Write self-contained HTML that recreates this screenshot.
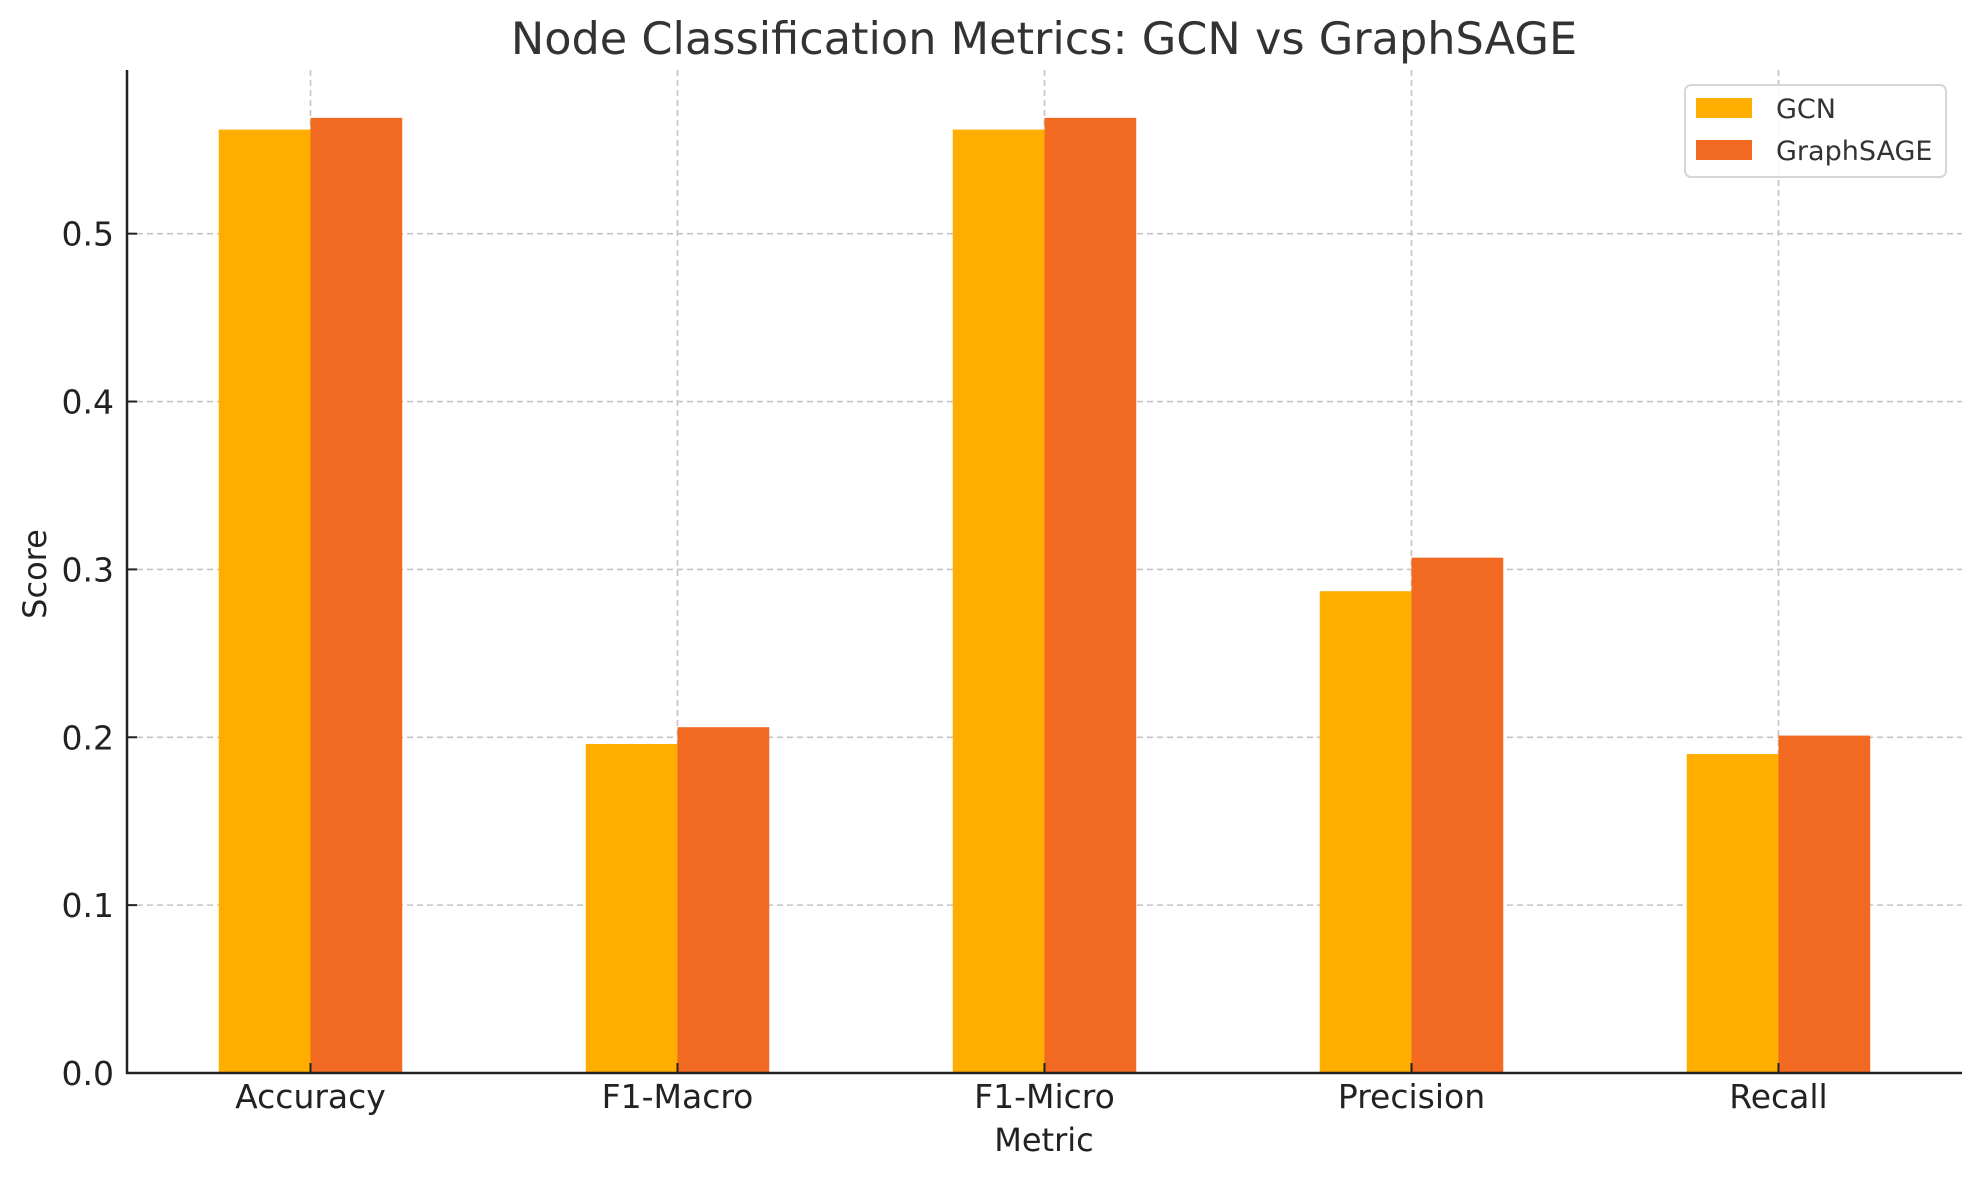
<!DOCTYPE html>
<html><head><meta charset="utf-8"><style>
body{margin:0;background:#fff}
svg text{font-family:"DejaVu Sans","Liberation Sans",sans-serif}
</style></head><body>
<svg id="chart" width="1980" height="1180" viewBox="0 0 1980 1180" xmlns="http://www.w3.org/2000/svg">
<rect width="1980" height="1180" fill="#fff"/>
<g id="grid"></g>
<g id="bars"></g>
<g id="axes"></g>
<text x="1044" y="54" text-anchor="middle" font-size="44.6" fill="#333">Node Classification Metrics: GCN vs GraphSAGE</text>
<text x="1044" y="1151" text-anchor="middle" font-size="32" fill="#222">Metric</text>
<text transform="translate(46,574) rotate(-90)" text-anchor="middle" font-size="32" fill="#222">Score</text>
<g>
<rect x="1685" y="85" width="261" height="92" rx="6" fill="#fff" fill-opacity="0.85" stroke="#d6d6d6" stroke-width="2"/>
<rect x="1696" y="98" width="56" height="20" fill="#FFAE00"/>
<text x="1776" y="118" font-size="27" fill="#333">GCN</text>
<rect x="1696" y="140" width="56" height="20" fill="#F26922"/>
<text x="1776" y="160" font-size="27" fill="#333">GraphSAGE</text>
</g>
</svg>
<script>
const categories=["Accuracy","F1-Macro","F1-Micro","Precision","Recall"];
const gcnValues=[0.562,0.196,0.562,0.287,0.190];
const sageValues=[0.569,0.206,0.569,0.307,0.201];
const yTicks=[0.0,0.1,0.2,0.3,0.4,0.5];
const yTickLabels=["0.0","0.1","0.2","0.3","0.4","0.5"];

const NS="http://www.w3.org/2000/svg";
const L=127,R=1962,T=70,B=1073;
const yMax=0.5975;
function y(v){return B-(v/yMax)*(B-T);}
function x(i){return L+(i+0.5)*(R-L)/categories.length;}
const unit=(R-L)/categories.length, bw=unit*0.25;
function mk(tag,attrs,parent){const e=document.createElementNS(NS,tag);for(const k in attrs)e.setAttribute(k,attrs[k]);parent.appendChild(e);return e;}
const grid=document.getElementById('grid'),bars=document.getElementById('bars'),axes=document.getElementById('axes');
yTicks.forEach((t,i)=>{
  const g=mk('line',{x1:L,x2:R,y1:y(t),y2:y(t),stroke:'#c4c4c4','stroke-width':1.6,'stroke-dasharray':'6,4'},grid);
  
  
  const tk=mk('line',{x1:L,x2:L+10,y1:y(t),y2:y(t),stroke:'#222','stroke-width':2},axes);
  
  
  const tx=mk('text',{x:L-13,y:y(t)+12,'text-anchor':'end','font-size':33,fill:'#222'},axes);
  tx.textContent=yTickLabels[i];
  
  
});
categories.forEach((c,i)=>{
  const g=mk('line',{x1:x(i),x2:x(i),y1:T,y2:B,stroke:'#c4c4c4','stroke-width':1.6,'stroke-dasharray':'6,4'},grid);
  
  
  const b1=mk('rect',{x:x(i)-bw,y:y(gcnValues[i]),width:bw,height:B-y(gcnValues[i]),fill:'#FFAE00'},bars);
  
  
  const b2=mk('rect',{x:x(i),y:y(sageValues[i]),width:bw,height:B-y(sageValues[i]),fill:'#F26922'},bars);
  
  
  const tk=mk('line',{x1:x(i),x2:x(i),y1:B,y2:B-10,stroke:'#222','stroke-width':2},axes);
  
  
  const tx=mk('text',{x:x(i),y:B+35,'text-anchor':'middle','font-size':33,fill:'#222'},axes);
  tx.textContent=c;
  
  
});
const ya=mk('line',{x1:L,x2:L,y1:T,y2:B+1,stroke:'#222','stroke-width':2.5},axes);


const xa=mk('line',{x1:L-1,x2:R,y1:B,y2:B,stroke:'#222','stroke-width':2.5},axes);


</script>
</body></html>
